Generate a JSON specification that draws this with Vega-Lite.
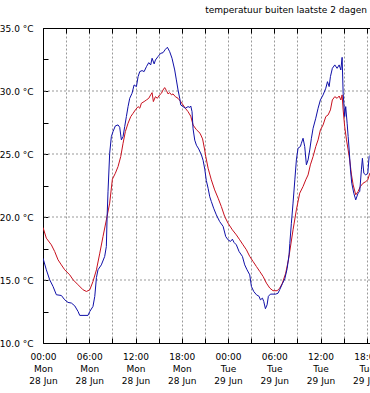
{
  "$schema": "https://vega.github.io/schema/vega-lite/v6.json",
  "autosize": {"type": "none"},
  "padding": {"left": 43, "top": 28, "right": 0, "bottom": 50},
  "width": 327,
  "height": 315,
  "background": "white",
  "title": {"text": "temperatuur buiten laatste 2 dagen", "anchor": "end", "frame": "group", "fontSize": 9, "font": "DejaVu Sans", "fontWeight": "normal", "color": "black", "offset": 2, "baseline": "alphabetic", "dx": -3},
  "config": {"view": {"stroke": null}},
  "datasets": {
    "raster": [{"g": 15}, {"g": 20}, {"g": 25}, {"g": 30}],
    "rood": [
      {"t": "2021-06-28T00:00", "v": 19.17}, {"t": "2021-06-28T00:26", "v": 18.32}, {"t": "2021-06-28T01:05", "v": 17.79}, {"t": "2021-06-28T01:31", "v": 17.26},
      {"t": "2021-06-28T01:57", "v": 16.6}, {"t": "2021-06-28T02:23", "v": 16.2}, {"t": "2021-06-28T02:49", "v": 15.81}, {"t": "2021-06-28T03:28", "v": 15.41},
      {"t": "2021-06-28T03:54", "v": 15.02}, {"t": "2021-06-28T04:33", "v": 14.62}, {"t": "2021-06-28T05:12", "v": 14.22}, {"t": "2021-06-28T05:38", "v": 14.09},
      {"t": "2021-06-28T06:04", "v": 14.22}, {"t": "2021-06-28T06:29", "v": 14.88}, {"t": "2021-06-28T06:56", "v": 15.81}, {"t": "2021-06-28T07:22", "v": 17.13},
      {"t": "2021-06-28T07:47", "v": 18.45}, {"t": "2021-06-28T08:13", "v": 19.77}, {"t": "2021-06-28T08:39", "v": 21.1}, {"t": "2021-06-28T09:00", "v": 23.0},
      {"t": "2021-06-28T09:23", "v": 23.47}, {"t": "2021-06-28T09:44", "v": 24.0}, {"t": "2021-06-28T10:05", "v": 24.8}, {"t": "2021-06-28T10:23", "v": 25.85},
      {"t": "2021-06-28T10:41", "v": 26.78}, {"t": "2021-06-28T11:02", "v": 27.44}, {"t": "2021-06-28T11:23", "v": 27.97}, {"t": "2021-06-28T11:41", "v": 28.23},
      {"t": "2021-06-28T11:59", "v": 28.5}, {"t": "2021-06-28T12:20", "v": 28.76}, {"t": "2021-06-28T12:33", "v": 28.63}, {"t": "2021-06-28T12:46", "v": 29.03},
      {"t": "2021-06-28T13:07", "v": 29.16}, {"t": "2021-06-28T13:25", "v": 29.29}, {"t": "2021-06-28T13:43", "v": 29.42}, {"t": "2021-06-28T13:58", "v": 29.69},
      {"t": "2021-06-28T14:09", "v": 29.87}, {"t": "2021-06-28T14:19", "v": 29.16}, {"t": "2021-06-28T14:35", "v": 29.55}, {"t": "2021-06-28T14:50", "v": 29.42},
      {"t": "2021-06-28T15:08", "v": 29.69}, {"t": "2021-06-28T15:22", "v": 29.82}, {"t": "2021-06-28T15:34", "v": 30.08}, {"t": "2021-06-28T15:47", "v": 30.27},
      {"t": "2021-06-28T16:01", "v": 30.03}, {"t": "2021-06-28T16:13", "v": 29.77}, {"t": "2021-06-28T16:26", "v": 29.87}, {"t": "2021-06-28T16:40", "v": 29.69},
      {"t": "2021-06-28T16:52", "v": 29.77}, {"t": "2021-06-28T17:10", "v": 29.55}, {"t": "2021-06-28T17:31", "v": 29.42}, {"t": "2021-06-28T17:52", "v": 29.16},
      {"t": "2021-06-28T18:10", "v": 28.89}, {"t": "2021-06-28T18:28", "v": 28.63}, {"t": "2021-06-28T18:49", "v": 28.36}, {"t": "2021-06-28T19:10", "v": 28.0},
      {"t": "2021-06-28T19:28", "v": 27.3}, {"t": "2021-06-28T19:54", "v": 26.93}, {"t": "2021-06-28T20:22", "v": 26.65}, {"t": "2021-06-28T20:42", "v": 26.2},
      {"t": "2021-06-28T20:57", "v": 25.4}, {"t": "2021-06-28T21:07", "v": 24.8}, {"t": "2021-06-28T21:25", "v": 23.87}, {"t": "2021-06-28T21:50", "v": 22.95},
      {"t": "2021-06-28T22:16", "v": 22.15}, {"t": "2021-06-28T22:43", "v": 21.49}, {"t": "2021-06-28T23:08", "v": 20.83}, {"t": "2021-06-28T23:34", "v": 20.04},
      {"t": "2021-06-29T00:00", "v": 19.51}, {"t": "2021-06-29T00:34", "v": 18.98}, {"t": "2021-06-29T01:05", "v": 18.58}, {"t": "2021-06-29T01:31", "v": 18.19},
      {"t": "2021-06-29T01:57", "v": 17.79}, {"t": "2021-06-29T02:23", "v": 17.4}, {"t": "2021-06-29T02:49", "v": 16.87}, {"t": "2021-06-29T03:15", "v": 16.47},
      {"t": "2021-06-29T03:41", "v": 16.07}, {"t": "2021-06-29T04:07", "v": 15.68}, {"t": "2021-06-29T04:33", "v": 15.28}, {"t": "2021-06-29T04:59", "v": 14.75},
      {"t": "2021-06-29T05:25", "v": 14.36}, {"t": "2021-06-29T05:50", "v": 14.15}, {"t": "2021-06-29T06:22", "v": 14.15}, {"t": "2021-06-29T06:43", "v": 14.36},
      {"t": "2021-06-29T07:03", "v": 14.75}, {"t": "2021-06-29T07:29", "v": 15.54}, {"t": "2021-06-29T07:50", "v": 16.6}, {"t": "2021-06-29T08:01", "v": 17.3},
      {"t": "2021-06-29T08:26", "v": 18.98}, {"t": "2021-06-29T08:52", "v": 20.57}, {"t": "2021-06-29T09:18", "v": 21.89}, {"t": "2021-06-29T09:44", "v": 22.42},
      {"t": "2021-06-29T10:05", "v": 22.95}, {"t": "2021-06-29T10:23", "v": 23.34}, {"t": "2021-06-29T10:41", "v": 24.14}, {"t": "2021-06-29T11:02", "v": 24.8},
      {"t": "2021-06-29T11:23", "v": 25.59}, {"t": "2021-06-29T11:41", "v": 26.12}, {"t": "2021-06-29T11:59", "v": 26.91}, {"t": "2021-06-29T12:20", "v": 27.31},
      {"t": "2021-06-29T12:41", "v": 27.97}, {"t": "2021-06-29T12:59", "v": 28.1}, {"t": "2021-06-29T13:17", "v": 28.5}, {"t": "2021-06-29T13:32", "v": 29.29},
      {"t": "2021-06-29T13:51", "v": 29.55}, {"t": "2021-06-29T14:09", "v": 29.42}, {"t": "2021-06-29T14:25", "v": 29.6}, {"t": "2021-06-29T14:38", "v": 29.29},
      {"t": "2021-06-29T14:48", "v": 29.69}, {"t": "2021-06-29T14:56", "v": 28.5}, {"t": "2021-06-29T15:08", "v": 27.17}, {"t": "2021-06-29T15:22", "v": 26.12},
      {"t": "2021-06-29T15:35", "v": 25.32}, {"t": "2021-06-29T15:47", "v": 24.53}, {"t": "2021-06-29T16:01", "v": 23.34}, {"t": "2021-06-29T16:14", "v": 22.55},
      {"t": "2021-06-29T16:34", "v": 21.76}, {"t": "2021-06-29T16:52", "v": 22.02}, {"t": "2021-06-29T17:10", "v": 22.42}, {"t": "2021-06-29T17:31", "v": 22.68},
      {"t": "2021-06-29T17:52", "v": 22.81}, {"t": "2021-06-29T18:08", "v": 22.95}, {"t": "2021-06-29T18:23", "v": 23.47}, {"t": "2021-06-29T18:27", "v": 23.5}
    ],
    "blauw": [
      {"t": "2021-06-28T00:00", "v": 16.73}, {"t": "2021-06-28T00:26", "v": 15.81}, {"t": "2021-06-28T00:52", "v": 15.02}, {"t": "2021-06-28T01:18", "v": 14.49},
      {"t": "2021-06-28T01:44", "v": 13.83}, {"t": "2021-06-28T02:23", "v": 13.77}, {"t": "2021-06-28T02:49", "v": 13.43}, {"t": "2021-06-28T03:15", "v": 13.22},
      {"t": "2021-06-28T03:41", "v": 13.17}, {"t": "2021-06-28T04:07", "v": 12.95}, {"t": "2021-06-28T04:33", "v": 12.5}, {"t": "2021-06-28T04:46", "v": 12.19},
      {"t": "2021-06-28T05:50", "v": 12.19}, {"t": "2021-06-28T06:04", "v": 12.5}, {"t": "2021-06-28T06:29", "v": 12.9}, {"t": "2021-06-28T06:43", "v": 13.7},
      {"t": "2021-06-28T06:56", "v": 15.2}, {"t": "2021-06-28T07:08", "v": 15.81}, {"t": "2021-06-28T07:34", "v": 16.2}, {"t": "2021-06-28T08:00", "v": 16.87},
      {"t": "2021-06-28T08:13", "v": 17.66}, {"t": "2021-06-28T08:19", "v": 20.04}, {"t": "2021-06-28T08:26", "v": 22.0}, {"t": "2021-06-28T08:39", "v": 25.06},
      {"t": "2021-06-28T08:52", "v": 26.38}, {"t": "2021-06-28T09:05", "v": 26.78}, {"t": "2021-06-28T09:23", "v": 27.23}, {"t": "2021-06-28T09:44", "v": 27.31},
      {"t": "2021-06-28T09:57", "v": 27.12}, {"t": "2021-06-28T10:10", "v": 26.12}, {"t": "2021-06-28T10:23", "v": 26.38}, {"t": "2021-06-28T10:36", "v": 27.18},
      {"t": "2021-06-28T10:49", "v": 27.97}, {"t": "2021-06-28T11:02", "v": 28.76}, {"t": "2021-06-28T11:15", "v": 29.42}, {"t": "2021-06-28T11:33", "v": 29.82},
      {"t": "2021-06-28T11:49", "v": 30.48}, {"t": "2021-06-28T12:07", "v": 30.35}, {"t": "2021-06-28T12:20", "v": 31.14}, {"t": "2021-06-28T12:33", "v": 31.54},
      {"t": "2021-06-28T12:51", "v": 31.62}, {"t": "2021-06-28T13:07", "v": 31.54}, {"t": "2021-06-28T13:25", "v": 31.93}, {"t": "2021-06-28T13:43", "v": 32.25},
      {"t": "2021-06-28T13:58", "v": 32.07}, {"t": "2021-06-28T14:09", "v": 32.6}, {"t": "2021-06-28T14:25", "v": 32.15}, {"t": "2021-06-28T14:35", "v": 32.46},
      {"t": "2021-06-28T14:55", "v": 32.73}, {"t": "2021-06-28T15:16", "v": 32.99}, {"t": "2021-06-28T15:34", "v": 33.04}, {"t": "2021-06-28T15:53", "v": 33.31},
      {"t": "2021-06-28T16:08", "v": 33.47}, {"t": "2021-06-28T16:26", "v": 33.12}, {"t": "2021-06-28T16:44", "v": 32.6}, {"t": "2021-06-28T17:05", "v": 31.67},
      {"t": "2021-06-28T17:18", "v": 30.88}, {"t": "2021-06-28T17:31", "v": 30.08}, {"t": "2021-06-28T17:44", "v": 29.42}, {"t": "2021-06-28T17:52", "v": 28.89},
      {"t": "2021-06-28T18:10", "v": 28.76}, {"t": "2021-06-28T18:28", "v": 28.63}, {"t": "2021-06-28T18:49", "v": 28.76}, {"t": "2021-06-28T19:02", "v": 28.7},
      {"t": "2021-06-28T19:10", "v": 28.81}, {"t": "2021-06-28T19:20", "v": 28.36}, {"t": "2021-06-28T19:28", "v": 27.0}, {"t": "2021-06-28T19:41", "v": 26.1},
      {"t": "2021-06-28T19:54", "v": 25.7}, {"t": "2021-06-28T20:12", "v": 25.4}, {"t": "2021-06-28T20:33", "v": 24.93}, {"t": "2021-06-28T20:46", "v": 24.5},
      {"t": "2021-06-28T20:59", "v": 23.8}, {"t": "2021-06-28T21:11", "v": 22.9}, {"t": "2021-06-28T21:25", "v": 22.28}, {"t": "2021-06-28T21:38", "v": 21.6},
      {"t": "2021-06-28T21:50", "v": 21.23}, {"t": "2021-06-28T22:08", "v": 20.7}, {"t": "2021-06-28T22:29", "v": 20.17}, {"t": "2021-06-28T22:55", "v": 19.64},
      {"t": "2021-06-28T23:22", "v": 19.25}, {"t": "2021-06-28T23:42", "v": 18.45}, {"t": "2021-06-29T00:00", "v": 18.19}, {"t": "2021-06-29T00:19", "v": 18.06},
      {"t": "2021-06-29T00:34", "v": 18.24}, {"t": "2021-06-29T00:47", "v": 17.98}, {"t": "2021-06-29T01:05", "v": 17.79}, {"t": "2021-06-29T01:26", "v": 17.26},
      {"t": "2021-06-29T01:52", "v": 16.87}, {"t": "2021-06-29T02:10", "v": 16.2}, {"t": "2021-06-29T02:28", "v": 15.81}, {"t": "2021-06-29T02:49", "v": 15.41},
      {"t": "2021-06-29T03:02", "v": 14.49}, {"t": "2021-06-29T03:20", "v": 14.09}, {"t": "2021-06-29T03:41", "v": 13.83}, {"t": "2021-06-29T04:02", "v": 13.7},
      {"t": "2021-06-29T04:12", "v": 13.43}, {"t": "2021-06-29T04:28", "v": 13.56}, {"t": "2021-06-29T04:38", "v": 13.3}, {"t": "2021-06-29T04:51", "v": 12.72},
      {"t": "2021-06-29T05:04", "v": 13.03}, {"t": "2021-06-29T05:14", "v": 13.7}, {"t": "2021-06-29T05:30", "v": 13.88}, {"t": "2021-06-29T06:11", "v": 13.88},
      {"t": "2021-06-29T06:29", "v": 13.95}, {"t": "2021-06-29T06:43", "v": 14.25}, {"t": "2021-06-29T07:03", "v": 14.7}, {"t": "2021-06-29T07:22", "v": 15.1},
      {"t": "2021-06-29T07:40", "v": 15.9}, {"t": "2021-06-29T07:55", "v": 17.0}, {"t": "2021-06-29T08:01", "v": 17.9}, {"t": "2021-06-29T08:13", "v": 19.5},
      {"t": "2021-06-29T08:26", "v": 21.1}, {"t": "2021-06-29T08:40", "v": 22.95}, {"t": "2021-06-29T08:52", "v": 24.53}, {"t": "2021-06-29T09:05", "v": 25.46},
      {"t": "2021-06-29T09:23", "v": 25.59}, {"t": "2021-06-29T09:31", "v": 25.85}, {"t": "2021-06-29T09:44", "v": 26.25}, {"t": "2021-06-29T09:57", "v": 25.59},
      {"t": "2021-06-29T10:10", "v": 24.14}, {"t": "2021-06-29T10:23", "v": 24.53}, {"t": "2021-06-29T10:36", "v": 25.32}, {"t": "2021-06-29T10:49", "v": 26.25},
      {"t": "2021-06-29T11:02", "v": 27.04}, {"t": "2021-06-29T11:23", "v": 27.84}, {"t": "2021-06-29T11:41", "v": 28.63}, {"t": "2021-06-29T11:59", "v": 29.29},
      {"t": "2021-06-29T12:20", "v": 29.69}, {"t": "2021-06-29T12:41", "v": 30.22}, {"t": "2021-06-29T12:54", "v": 30.74}, {"t": "2021-06-29T13:07", "v": 30.35},
      {"t": "2021-06-29T13:17", "v": 31.14}, {"t": "2021-06-29T13:32", "v": 31.8}, {"t": "2021-06-29T13:51", "v": 32.07}, {"t": "2021-06-29T14:09", "v": 31.8},
      {"t": "2021-06-29T14:25", "v": 32.07}, {"t": "2021-06-29T14:38", "v": 31.67}, {"t": "2021-06-29T14:48", "v": 32.67}, {"t": "2021-06-29T14:56", "v": 29.82},
      {"t": "2021-06-29T15:08", "v": 27.97}, {"t": "2021-06-29T15:16", "v": 28.76}, {"t": "2021-06-29T15:27", "v": 27.44}, {"t": "2021-06-29T15:35", "v": 26.38},
      {"t": "2021-06-29T15:43", "v": 25.32}, {"t": "2021-06-29T15:53", "v": 23.74}, {"t": "2021-06-29T16:03", "v": 22.68}, {"t": "2021-06-29T16:19", "v": 21.89},
      {"t": "2021-06-29T16:34", "v": 21.36}, {"t": "2021-06-29T16:52", "v": 21.89}, {"t": "2021-06-29T17:05", "v": 22.02}, {"t": "2021-06-29T17:18", "v": 23.74},
      {"t": "2021-06-29T17:26", "v": 24.66}, {"t": "2021-06-29T17:37", "v": 23.47}, {"t": "2021-06-29T17:52", "v": 23.34}, {"t": "2021-06-29T18:08", "v": 23.47},
      {"t": "2021-06-29T18:18", "v": 24.8}, {"t": "2021-06-29T18:27", "v": 24.9}
    ]
  },
  "layer": [
    {
      "data": {"name": "raster"},
      "mark": {"type": "rule", "color": "#999999", "strokeDash": [2, 2], "strokeWidth": 1},
      "encoding": {
        "y": {"field": "g", "type": "quantitative", "scale": {"domain": [10, 35], "nice": false, "zero": false}, "axis": null}
      }
    },
    {
      "data": {"name": "rood"},
      "mark": {"type": "line", "color": "#c8101e", "strokeWidth": 1, "clip": true},
      "encoding": {
        "x": {
          "field": "t", "type": "temporal",
          "scale": {"domain": [{"year": 2021, "month": 6, "date": 28, "hours": 0}, {"year": 2021, "month": 6, "date": 29, "hours": 18, "minutes": 25}]},
          "axis": {
            "orient": "bottom", "title": null,
            "values": [
              {"year": 2021, "month": 6, "date": 28, "hours": 0}, {"year": 2021, "month": 6, "date": 28, "hours": 3}, {"year": 2021, "month": 6, "date": 28, "hours": 6},
              {"year": 2021, "month": 6, "date": 28, "hours": 9}, {"year": 2021, "month": 6, "date": 28, "hours": 12}, {"year": 2021, "month": 6, "date": 28, "hours": 15},
              {"year": 2021, "month": 6, "date": 28, "hours": 18}, {"year": 2021, "month": 6, "date": 28, "hours": 21}, {"year": 2021, "month": 6, "date": 29, "hours": 0},
              {"year": 2021, "month": 6, "date": 29, "hours": 3}, {"year": 2021, "month": 6, "date": 29, "hours": 6}, {"year": 2021, "month": 6, "date": 29, "hours": 9},
              {"year": 2021, "month": 6, "date": 29, "hours": 12}, {"year": 2021, "month": 6, "date": 29, "hours": 15}, {"year": 2021, "month": 6, "date": 29, "hours": 18}
            ],
            "tickSize": -5, "tickColor": "black", "domainColor": "black",
            "labelPadding": 14, "labelFlush": false, "labelOverlap": false, "labelBound": false,
            "labelFont": "DejaVu Sans", "labelFontSize": 9, "labelColor": "black", "labelLineHeight": 12, "labelBaseline": "top",
            "labelExpr": "hours(datum.value) % 6 === 0 ? [timeFormat(datum.value, '%H:%M'), timeFormat(datum.value, '%a'), timeFormat(datum.value, '%d %b')] : ''",
            "grid": true, "gridColor": "#999999", "gridDash": [2, 2]
          }
        },
        "y": {
          "field": "v", "type": "quantitative",
          "axis": {
            "orient": "left", "title": null,
            "values": [10, 12.5, 15, 17.5, 20, 22.5, 25, 27.5, 30, 32.5, 35],
            "tickSize": -5, "tickColor": "black", "domainColor": "black",
            "labelPadding": 15, "labelOverlap": false, "labelBound": false, "labelFlush": false,
            "labelFont": "DejaVu Sans", "labelFontSize": 9, "labelColor": "black",
            "labelExpr": "datum.value % 5 === 0 ? format(datum.value, '.1f') + ' °C' : ''",
            "grid": false
          }
        }
      }
    },
    {
      "data": {"name": "blauw"},
      "mark": {"type": "line", "color": "#1010a8", "strokeWidth": 1, "clip": true},
      "encoding": {
        "x": {
          "field": "t", "type": "temporal",
          "axis": {
            "orient": "top", "title": null,
            "values": [
              {"year": 2021, "month": 6, "date": 28, "hours": 0}, {"year": 2021, "month": 6, "date": 28, "hours": 3}, {"year": 2021, "month": 6, "date": 28, "hours": 6},
              {"year": 2021, "month": 6, "date": 28, "hours": 9}, {"year": 2021, "month": 6, "date": 28, "hours": 12}, {"year": 2021, "month": 6, "date": 28, "hours": 15},
              {"year": 2021, "month": 6, "date": 28, "hours": 18}, {"year": 2021, "month": 6, "date": 28, "hours": 21}, {"year": 2021, "month": 6, "date": 29, "hours": 0},
              {"year": 2021, "month": 6, "date": 29, "hours": 3}, {"year": 2021, "month": 6, "date": 29, "hours": 6}, {"year": 2021, "month": 6, "date": 29, "hours": 9},
              {"year": 2021, "month": 6, "date": 29, "hours": 12}, {"year": 2021, "month": 6, "date": 29, "hours": 15}, {"year": 2021, "month": 6, "date": 29, "hours": 18}
            ],
            "tickSize": -5, "tickColor": "black", "domainColor": "black",
            "labels": false, "grid": false
          }
        },
        "y": {"field": "v", "type": "quantitative", "axis": null}
      }
    }
  ],
  "resolve": {"axis": {"x": "independent", "y": "independent"}}
}
